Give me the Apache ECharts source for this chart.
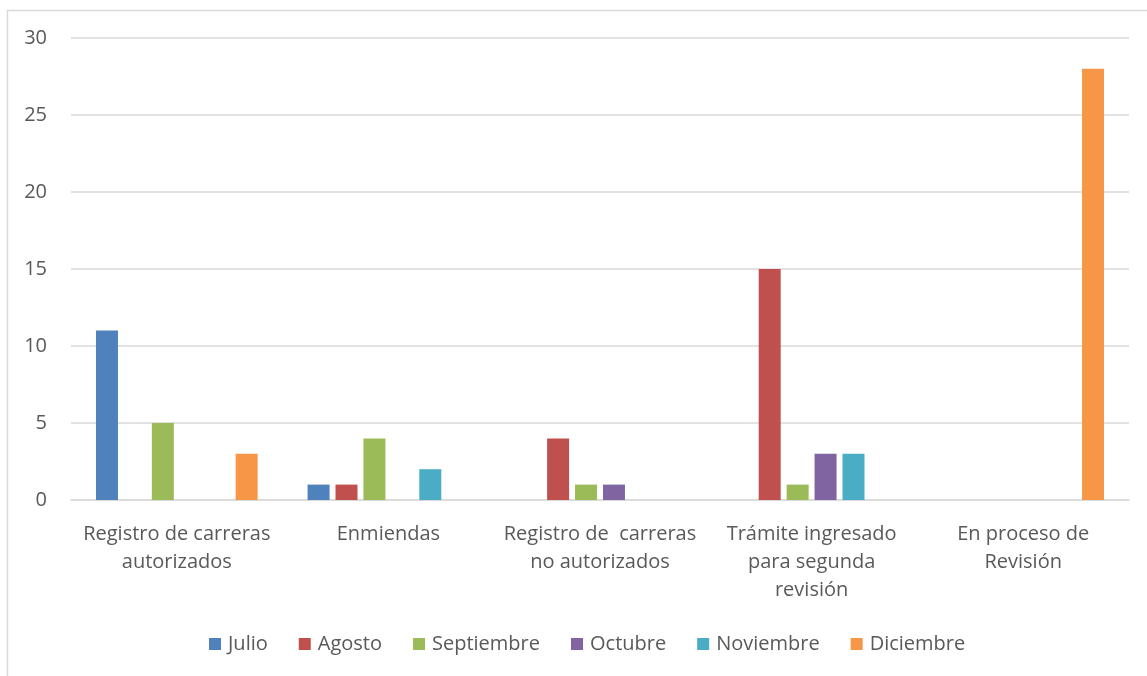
<!DOCTYPE html>
<html>
<head>
<meta charset="utf-8">
<script src="https://cdn.jsdelivr.net/npm/echarts@6/dist/echarts.min.js"></script>
<style>html,body{margin:0;padding:0;background:#fff}#c{width:1147px;height:676px}</style>
</head>
<body>
<div id="c"></div>
<script>
const categories = ["Registro de carreras\nautorizados", "Enmiendas", "Registro de  carreras\nno autorizados", "Trámite ingresado\npara segunda\nrevisión", "En proceso de\nRevisión"];
const months = ["Julio", "Agosto", "Septiembre", "Octubre", "Noviembre", "Diciembre"];
const julio = [11, 1, 0, 0, 0];
const agosto = [0, 1, 4, 15, 0];
const septiembre = [5, 4, 1, 1, 0];
const octubre = [0, 0, 1, 3, 0];
const noviembre = [0, 2, 0, 3, 0];
const diciembre = [3, 0, 0, 0, 28];
const colors = ["#4f81bd", "#c0504d", "#9bbb59", "#8064a2", "#4bacc6", "#f79646"];
const seriesData = [julio, agosto, septiembre, octubre, noviembre, diciembre];
const FONT = "'Open Sans', sans-serif";

const chart = echarts.init(document.getElementById('c'), null, {renderer: 'canvas'});
chart.setOption({
  animation: false,
  color: colors,
  textStyle: {fontFamily: FONT},
  graphic: [{type: 'rect', shape: {x: 7.5, y: 10.5, width: 1200, height: 700}, style: {fill: 'none', stroke: '#d9d9d9', lineWidth: 1.5}, silent: true}],
  grid: {left: 71, right: 18, top: 38, bottom: 176},
  legend: {
    bottom: 17, left: 204,
    itemWidth: 12, itemHeight: 12, itemGap: 31,
    icon: 'rect',
    textStyle: {fontFamily: FONT, fontSize: 20, color: '#595959', padding: [0, 0, 0, 2]},
    data: months
  },
  xAxis: {
    type: 'category', data: categories,
    axisLine: {lineStyle: {color: '#d9d9d9', width: 1.5}},
    axisTick: {show: false},
    axisLabel: {fontFamily: FONT, fontSize: 20, color: '#595959', lineHeight: 28, margin: 20, interval: 0}
  },
  yAxis: {
    type: 'value', min: 0, max: 30, interval: 5,
    axisLine: {show: false}, axisTick: {show: false},
    splitLine: {lineStyle: {color: '#d9d9d9', width: 1.5}},
    axisLabel: {fontFamily: FONT, fontSize: 20, color: '#595959', margin: 24}
  },
  series: months.map((m, i) => ({
    name: m, type: 'bar', data: seriesData[i],
    barGap: '27%', barCategoryGap: '23.6%',
    itemStyle: {color: colors[i]}
  }))
});
</script>
</body>
</html>
